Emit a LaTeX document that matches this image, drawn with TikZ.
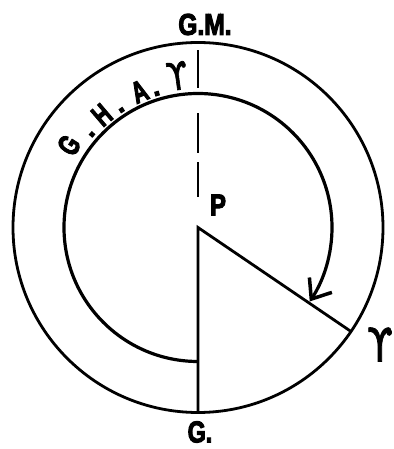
\documentclass[tikz,border=0pt]{standalone}
\usepackage{fontspec}
\setmainfont{Liberation Sans}[BoldFeatures={FakeBold=4}]
\newfontfamily\symfont{DejaVu Sans}[FakeBold=2]
\usetikzlibrary{arrows.meta}
\newcommand{\hsq}[2]{\scalebox{#1}[1]{#2}}
\begin{document}
\begin{tikzpicture}[x=1pt,y=1pt,
  lbl/.style={inner sep=0pt, font=\bfseries\fontsize{30}{32}\selectfont},
  gha/.style={inner sep=0pt, font=\bfseries\fontsize{30}{32}\selectfont},
  ghadot/.style={inner sep=0pt, font=\bfseries\fontsize{26}{28}\selectfont},
  sym/.style={inner sep=0pt, font=\symfont\fontsize{#1}{#1}\selectfont},
  circ/.style={line width=2.8pt},
  rad/.style={line width=2.8pt, line join=miter},
  dashline/.style={line width=2.5pt, dash pattern=on 35pt off 9pt on 40pt off 25pt on 38pt off 100pt},
  ghaarc/.style={line width=3.2pt, -{Straight Barb[length=17pt, width=27pt, line width=3.5pt]}}]
\useasboundingbox (-198,-221.5) rectangle (195,227.5);
\coordinate (P) at (0,0);
\coordinate (G) at (270:185);
\coordinate (Ar) at (-34.2:185);
\coordinate (Gi) at (270:134);
\coordinate (dA) at (90:30.5);
\coordinate (dB) at (90:177.5);
\draw[circ] (P) circle[radius=185];
\draw[rad] (G) -- (P) -- (Ar);
\draw[dashline] (dA) -- (dB);
\draw[ghaarc] (Gi) arc[start angle=270, end angle=-33.5, radius=134];
% labels
\node[lbl] (gm) at (7,203) {\hsq{.82}{G.M.}};
\node[lbl] (p) at (20,22.5) {\hsq{.8}{P}};
\node[lbl] (g) at (2,-204.5) {\hsq{.78}{G.}};
\node[sym=46] (ar) at (182,-117) {\hsq{.8}{ϒ}};
% G.H.A. along the arc
\node[gha, rotate=57.5] (l1) at (147.5:153) {\hsq{.7}{G}};
\node[ghadot, rotate=48.7] (d1) at (138.7:141) {.};
\node[gha, rotate=40.5] (l2) at (130.5:148) {\hsq{.7}{H}};
\node[ghadot, rotate=33] (d2) at (123:140) {.};
\node[gha, rotate=23.3] (l3) at (113.3:148) {\hsq{.7}{A}};
\node[ghadot, rotate=17] (d3) at (107:140) {.};
\node[sym=38, rotate=7.8] (l4) at (97.8:153) {\hsq{.8}{ϒ}};
\end{tikzpicture}
\end{document}
